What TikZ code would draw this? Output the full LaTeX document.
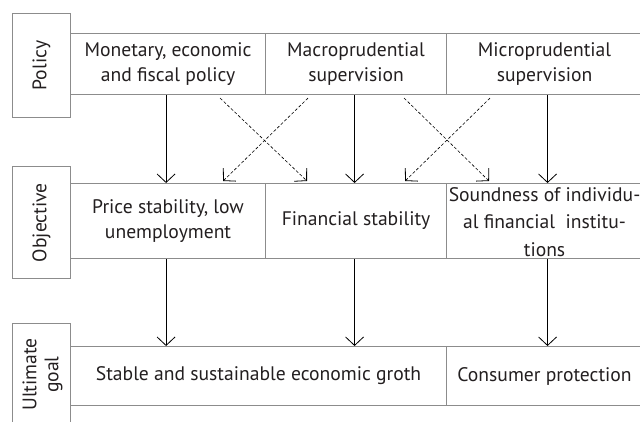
\documentclass[tikz,border=0pt]{standalone}
\usepackage{fontspec}
\setmainfont{PT Sans}
\usetikzlibrary{arrows.meta}
\definecolor{rule}{HTML}{8C8C8C}
\definecolor{ink}{HTML}{231F20}
\newcommand{\cellfont}{\fontsize{19.6}{25}\selectfont}
\begin{document}
\begin{tikzpicture}[x=1pt,y=-1pt,
  cell/.style={draw=rule, line width=1.1pt, anchor=north west, inner sep=0pt,
    align=center, text=ink, font=\cellfont},
  tag/.style={cell},
  tagtext/.style={rotate=90, align=center, text=ink, font=\fontsize{19.6}{22}\selectfont, inner sep=0pt},
  flow/.style={draw=black, line width=0.8pt, -{Straight Barb[length=8.5pt,width=18pt,line width=0.8pt]}},
  cross/.style={flow, dashed, dash pattern=on 3pt off 2pt, line width=0.6pt}]
\useasboundingbox (0,0) rectangle (640,421);
\clip (0,0) rectangle (640,421);
\fill[white] (0,0) rectangle (640,421);

% row labels
\node[tag, minimum width=58pt, minimum height=104pt] (lp) at (12,13) {};
\node[tagtext] at (lp.center) {Policy};
\node[tag, minimum width=58pt, minimum height=112pt] (lo) at (12,166) {};
\node[tagtext] at (lo.center) {Objective};
\node[tag, minimum width=58pt, minimum height=102pt] (lg) at (12,323) {};
\node[tagtext] at ([xshift=1pt]lg.center) {Ultimate\\goal};

% policy row
\node[cell, minimum width=195pt, minimum height=61pt] (p1) at (70,33) {Monetary, economic\\and fiscal policy};
\node[cell, minimum width=181pt, minimum height=61pt] (p2) at (265,33) {Macroprudential\\supervision};
\node[cell, minimum width=196pt, minimum height=61pt] (p3) at (446,33) {Microprudential\\supervision};

% objective row
\node[cell, minimum width=195pt, minimum height=75pt] (o1) at (70,183) {Price stability, low\\unemployment};
\node[cell, minimum width=181pt, minimum height=75pt] (o2) at (265,183) {Financial stability};
\node[cell, minimum width=196pt, minimum height=75pt] (o3) at (446,183) {};
\node[align=center, text=ink, font=\fontsize{19.6}{27.5}\selectfont, inner sep=0pt] (o3t) at ([yshift=-1pt]o3.center) {Soundness of individu-\\al financial\ \ institu-\\tions};

% ultimate goal row
\node[cell, minimum width=376pt, minimum height=59pt] (g1) at (70,346) {Stable and sustainable economic groth};
\node[cell, minimum width=196pt, minimum height=59pt] (g2) at (446,346) {Consumer protection};

% direct links
\draw[flow] ([xshift=-2pt]p1.south) -- ([xshift=-2pt]o1.north);
\draw[flow] ([xshift=-1.5pt]p2.south) -- ([xshift=-1.5pt]o2.north);
\draw[flow] ([xshift=3pt]p3.south) -- ([xshift=3pt]o3.north);
\draw[flow] ([xshift=-2pt]o1.south) -- ([xshift=-2pt]g1.north -| o1.south);
\draw[flow] ([xshift=-1.5pt]o2.south) -- ([xshift=-1.5pt]g1.north -| o2.south);
\draw[flow] ([xshift=3pt]o3.south) -- ([xshift=3pt]g2.north);

% cross links
\draw[cross] ([xshift=-46pt,yshift=-3pt]p1.south east) -- ([xshift=42pt,yshift=2pt]o2.north west);
\draw[cross] ([xshift=43pt,yshift=-3pt]p2.south west) -- ([xshift=-43pt,yshift=2pt]o1.north east);
\draw[cross] ([xshift=-43pt,yshift=-3pt]p2.south east) -- ([xshift=43pt,yshift=2pt]o3.north west);
\draw[cross] ([xshift=44pt,yshift=-3pt]p3.south west) -- ([xshift=-42pt,yshift=2pt]o2.north east);
\end{tikzpicture}
\end{document}
